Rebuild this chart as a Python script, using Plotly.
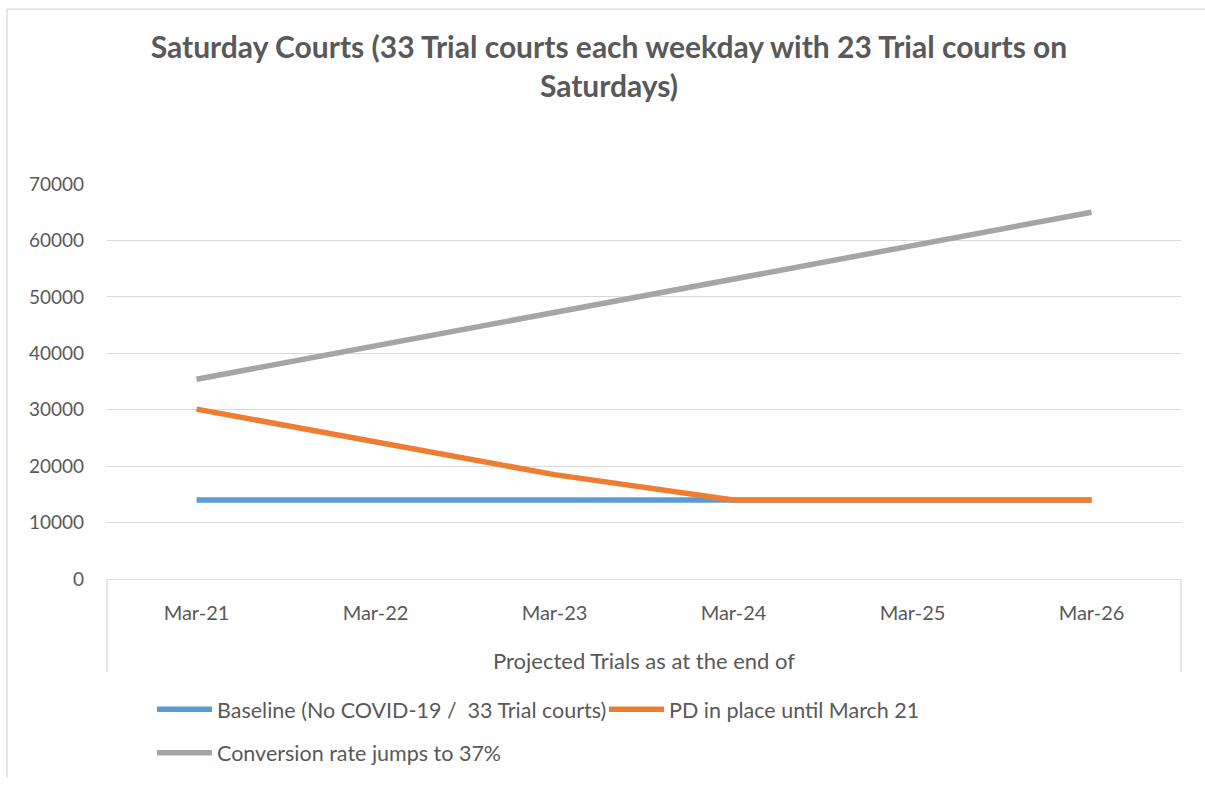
import plotly.graph_objects as go

categories = ["Mar-21", "Mar-22", "Mar-23", "Mar-24", "Mar-25", "Mar-26"]
baseline = [14000, 14000, 14000, 14000, 14000, 14000]
pd_until_march21 = [30100, 24200, 18500, 14000, 14000, 14000]
conversion_37 = [35400, 41300, 47200, 53200, 59100, 65000]
y_ticks = [0, 10000, 20000, 30000, 40000, 50000, 60000, 70000]

names = ["Baseline (No COVID-19 /\u00a0\u00a033 Trial courts)",
         "PD in place until March 21",
         "Conversion rate jumps to 37%"]
colors = ["#5B9BD5", "#ED7D31", "#A5A5A5"]

FONT = "Lato"
TXT = "#595959"
GRID = "#D9D9D9"

fig = go.Figure()
for vals, nm, col, lg in [(baseline, names[0], colors[0], "legend"),
                          (pd_until_march21, names[1], colors[1], "legend"),
                          (conversion_37, names[2], colors[2], "legend2")]:
    fig.add_trace(go.Scatter(x=categories, y=vals, name=nm, mode="lines",
                             line=dict(color=col, width=5.5), legend=lg))

# page coordinates (body margin removed below)
W, H = 1205, 785
L, R, T, B = 107, 24, 184, 201
pw, ph = W - L - R, H - T - B

def px(xp):
    return (xp - L) / pw

def py(yp):
    return (H - B - yp) / ph

fig.update_layout(
    width=W, height=H,
    margin=dict(l=L, r=R, t=T, b=B),
    paper_bgcolor="white", plot_bgcolor="white",
    hovermode=False,
    font=dict(family=FONT, color=TXT, size=19),
    title=dict(text="<b>Saturday Courts (33 Trial courts each weekday with 23 Trial courts on<br>Saturdays)</b>",
               x=609 / W, xanchor="center", xref="container",
               y=1 - 58 / H, yanchor="top", yref="container",
               font=dict(family=FONT, size=30, color=TXT)),
    xaxis=dict(type="category", range=[-0.5, 5.5], showgrid=False,
               showline=True, linecolor=GRID, linewidth=1.3,
               ticks="", ticklabelstandoff=16,
               tickfont=dict(family=FONT, size=20, color=TXT),
               title=dict(text="Projected Trials as at the end of", standoff=30,
                          font=dict(family=FONT, size=22, color=TXT))),
    yaxis=dict(range=[0, 70000], tickvals=y_ticks, ticktext=[str(v) for v in y_ticks],
               showgrid=True, gridcolor=GRID, gridwidth=1.3, zeroline=False,
               showline=False, ticks="", ticklabelstandoff=22,
               tickfont=dict(family=FONT, size=19, color=TXT)),
    legend=dict(orientation="h", x=px(152), xanchor="left", y=py(716), yanchor="middle",
                font=dict(family=FONT, size=21.5, color=TXT), itemwidth=55,
                entrywidth=382, traceorder="normal", bgcolor="rgba(0,0,0,0)"),
    legend2=dict(orientation="h", x=px(152), xanchor="left", y=py(760), yanchor="middle",
                 font=dict(family=FONT, size=21.5, color=TXT), itemwidth=55,
                 bgcolor="rgba(0,0,0,0)"),
    shapes=[
        dict(type="line", xref="paper", yref="paper", x0=0, x1=0, y0=0, y1=py(678),
             line=dict(color=GRID, width=1.3)),
        dict(type="line", xref="paper", yref="paper", x0=1, x1=1, y0=0, y1=py(678),
             line=dict(color=GRID, width=1.3)),
        dict(type="line", xref="paper", yref="paper", x0=px(7), x1=px(W), y0=py(7), y1=py(7),
             line=dict(color=GRID, width=1.3)),
        dict(type="line", xref="paper", yref="paper", x0=px(7), x1=px(7), y0=py(7), y1=py(H),
             line=dict(color=GRID, width=1.3)),
    ],
)

fig.write_html(
    "out.html",
    config={"displayModeBar": False},
    post_script="document.body.style.margin='0';document.documentElement.style.overflow='hidden';document.body.style.overflow='hidden';",
)
